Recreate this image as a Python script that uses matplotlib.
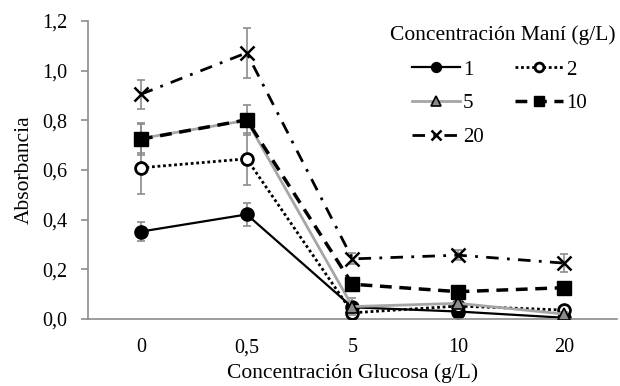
import matplotlib
matplotlib.use("Agg")
import matplotlib.pyplot as plt
from matplotlib.lines import Line2D

plt.rcParams['font.family'] = ['Liberation Serif', 'DejaVu Serif']

categories = ["0", "0,5", "5", "10", "20"]
series_names = ["1", "2", "5", "10", "20"]
vals_1 = [0.352, 0.421, 0.047, 0.030, 0.005]
err_1 = [0.038, 0.048, 0.010, 0.010, 0.005]
vals_2 = [0.609, 0.645, 0.025, 0.052, 0.036]
err_2 = [0.105, 0.105, 0.010, 0.010, 0.010]
vals_5 = [0.727, 0.800, 0.050, 0.063, 0.020]
err_5 = [0.060, 0.060, 0.035, 0.010, 0.010]
vals_10 = [0.724, 0.802, 0.140, 0.110, 0.126]
err_10 = [0.065, 0.010, 0.010, 0.010, 0.010]
vals_20 = [0.905, 1.072, 0.242, 0.257, 0.225]
err_20 = [0.058, 0.100, 0.022, 0.020, 0.037]
yticks = [0.0, 0.2, 0.4, 0.6, 0.8, 1.0, 1.2]

FS_TICK = 14.5
FS_LAB = 15.5
FS_LEG = 15
GRAY = '#8c8c8c'
fig = plt.figure(figsize=(6.2, 3.86), dpi=100)
ax = fig.add_axes([0.142, 0.1736, 0.853, 0.772])
x = list(range(len(categories)))

styles = [
    dict(color='black', lw=1.6, ls='-', marker='o', ms=9.5, mfc='black', mec='black', mew=1),
    dict(color='black', lw=2.0, ls=(0, (1, 1)), marker='o', ms=8.5, mfc='white', mec='black', mew=2),
    dict(color='#a6a6a6', lw=2.0, ls='-', marker='^', ms=9, mfc='#8a8a8a', mec='black', mew=1.2),
    dict(color='black', lw=2.5, ls=(0, (3.4, 2.2)), marker='s', ms=9.5, mfc='black', mec='black', mew=1),
    dict(color='black', lw=2.0, ls=(0, (4.5, 3, 1, 3)), marker='x', ms=10, mfc='black', mec='black', mew=1.8),
]
all_vals = [vals_1, vals_2, vals_5, vals_10, vals_20]
all_errs = [err_1, err_2, err_5, err_10, err_20]

for i, (v, e, st) in enumerate(zip(all_vals, all_errs, styles)):
    ax.errorbar(x, v, yerr=e, fmt='none', ecolor=GRAY, elinewidth=1.2,
                capsize=3.2, capthick=1.2, zorder=2 + i)
    ax.plot(x, v, zorder=2.5 + i, **st)

ax.set_xlim(-0.5, 4.5)
ax.set_ylim(0, 1.2)
ax.set_xticks(x)
ax.set_xticklabels(categories)
ax.set_yticks(yticks)
ax.set_yticklabels([f"{t:.1f}".replace('.', ',') for t in yticks])
for s in ['top', 'right']:
    ax.spines[s].set_visible(False)
for s in ['left', 'bottom']:
    ax.spines[s].set_color(GRAY)
    ax.spines[s].set_linewidth(1.2)
ax.tick_params(axis='y', direction='out', length=5, color=GRAY, width=1.2,
               labelsize=FS_TICK, pad=10)
ax.tick_params(axis='x', length=0, labelsize=FS_TICK, pad=14)
ax.set_xlabel("Concentración Glucosa (g/L)", fontsize=FS_LAB, labelpad=4)
ax.set_ylabel("Absorbancia", fontsize=FS_LAB, labelpad=6)

handles = []
for st in styles:
    h = dict(st)
    h['ms'] = st['ms'] * 0.75
    handles.append(Line2D([], [], **h))
order = [0, 2, 4, 1, 3]
fig.text(503 / 620, (386 - 35) / 386, "Concentración Maní (g/L)", fontsize=FS_LAB,
         ha='center', va='center')
leg = fig.legend([handles[i] for i in order], [series_names[i] for i in order],
                 ncol=2, frameon=False, borderpad=0, borderaxespad=0,
                 loc='upper left', bbox_to_anchor=(412 / 620, (386 - 60) / 386),
                 fontsize=FS_LEG, handlelength=2.3,
                 handletextpad=0.15, columnspacing=1.5, labelspacing=0.68)

fig.savefig("out.png", dpi=100)
